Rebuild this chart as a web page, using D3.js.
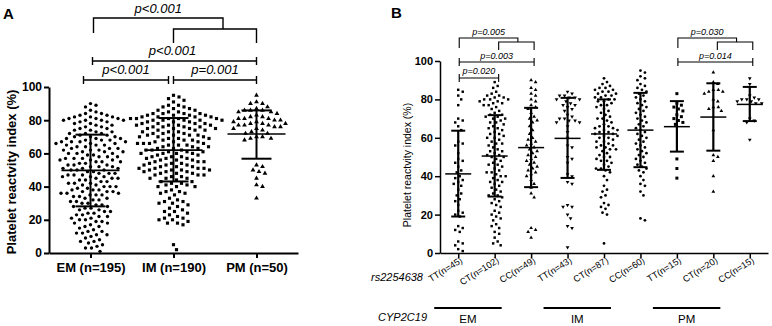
<!DOCTYPE html>
<html>
<head>
<meta charset="utf-8">
<script src="https://cdn.jsdelivr.net/npm/d3@7"></script>
<style>
body { margin: 0; background: #fff; }
svg { display: block; font-family: "Liberation Sans", Arial, sans-serif; }
</style>
</head>
<body>
<svg width="772" height="326"></svg>
<script>
// ---------- data: panel A ----------
var groupsA = ['EM (n=195)', 'IM (n=190)', 'PM (n=50)'];
var emValues = [90, 89, 88, 86, 85,
	84, 84, 83, 83, 82, 82, 82, 81, 81, 81, 80, 80, 80, 80,
	79, 79, 78, 78, 77, 77, 76, 76, 75, 75,
	74, 74, 73, 73, 72, 72, 72, 71, 71, 70, 70, 70,
	69, 69, 69, 68, 68, 68, 67, 67, 67, 67, 66, 66, 66, 65, 65, 65,
	64, 64, 63, 63, 63, 62, 62, 62, 61, 61, 61, 60, 60, 60,
	59, 59, 58, 58, 58, 57, 57, 57, 56, 56, 56, 55, 55, 55,
	54, 54, 53, 53, 53, 52, 52, 52, 51, 51, 51, 50, 50, 50,
	49, 49, 48, 48, 48, 47, 47, 47, 46, 46, 46, 45, 45, 45,
	44, 44, 43, 43, 42, 42, 42, 41, 41, 40, 40, 40,
	39, 39, 38, 38, 38, 37, 37, 37, 36, 36, 36, 35, 35, 35,
	34, 34, 33, 33, 32, 32, 31, 31, 30, 30,
	29, 29, 28, 28, 27, 27, 26, 26, 25, 25,
	24, 24, 23, 23, 22, 22, 21, 21, 20, 20,
	19, 19, 18, 18, 17, 16, 16, 15,
	14, 13, 13, 12, 12, 11, 11, 10,
	9, 8, 7, 7, 6, 5,
	4, 3, 3, 1];
var imValues = [95, 94, 93, 92, 91,
	89, 89, 88, 88, 87, 87, 86, 86, 85, 85,
	84, 84, 84, 84, 83, 83, 83, 83, 82, 82, 82, 82, 81, 81, 81, 81, 81, 80, 80, 80, 80, 80,
	79, 79, 79, 78, 78, 78, 78, 77, 77, 77, 77, 76, 76, 76, 76, 75, 75, 75, 75,
	74, 74, 74, 73, 73, 73, 72, 72, 72, 71, 71, 71, 71, 70, 70, 70,
	69, 69, 69, 68, 68, 68, 67, 67, 67, 66, 66, 66, 66, 65, 65, 65,
	64, 64, 64, 63, 63, 63, 62, 62, 62, 61, 61, 61, 60, 60, 60, 60,
	59, 59, 58, 58, 58, 57, 57, 57, 56, 56, 56, 55, 55, 55,
	54, 54, 54, 53, 53, 53, 52, 52, 52, 51, 51, 51, 51, 50, 50, 50, 50,
	49, 49, 49, 48, 48, 48, 47, 47, 47, 46, 46, 45, 45, 45,
	44, 43, 43, 42, 42, 41, 41, 40, 40, 40,
	38, 37, 37, 36, 36, 35,
	33, 32, 31, 31, 30, 30,
	29, 28, 27, 26, 25, 25,
	24, 23, 22, 21, 21, 20, 20,
	19, 18, 18, 17,
	5, 2];
var pmValues = [95, 91, 90, 90, 88, 87, 86, 86, 86, 85,
	85, 84, 83, 82, 82, 81, 81, 81, 80, 80,
	79, 79, 78, 78, 78, 77, 77, 77, 76, 76,
	75, 75, 74, 73, 72, 72, 70, 70, 69, 69, 68,
	53, 52, 50, 49, 48, 45, 41, 40, 33];
var meanA = [49.8, 62, 71.7];
var sdLowA = [28.1, 43.1, 56.8];
var sdHighA = [71.3, 81.3, 85.9];
var yTicks = [0, 20, 40, 60, 80, 100];
var pLabelsA = ['p<0.001', 'p<0.001', 'p<0.001', 'p=0.001'];

// ---------- data: panel B ----------
var genotypes = ['TT(n=45)', 'CT(n=102)', 'CC(n=49)', 'TT(n=43)', 'CT(n=87)', 'CC(n=60)', 'TT(n=15)', 'CT(n=20)', 'CC(n=15)'];
var phenotypes = ['EM', 'IM', 'PM'];
var emTT = [85, 84, 82, 80, 77, 70, 69, 68, 66, 64, 58, 57, 56, 52, 49, 48, 47, 45, 43, 42,
	40, 39, 38, 37, 36, 35, 33, 31, 30, 28, 27, 25, 22, 21, 20, 19, 14, 13, 12, 11, 6, 5, 4, 1, 2];
var emCT = [89, 87, 86, 84, 83, 82, 82, 81, 81, 80, 80, 80,
	79, 79, 78, 78, 77, 77, 76, 75, 74, 73, 72, 72, 71, 71, 70, 70,
	69, 68, 68, 67, 66, 65, 65, 64, 63, 62, 62, 61, 60, 60,
	59, 58, 57, 57, 56, 55, 54, 53, 53, 52, 51, 51, 50, 50,
	49, 48, 47, 46, 46, 45, 44, 43, 42, 42, 41, 40, 40,
	39, 38, 37, 37, 36, 35, 34, 33, 32, 31, 30, 30,
	29, 28, 27, 26, 25, 24, 22, 21, 20,
	19, 18, 17, 15, 14, 13, 11, 10, 8, 6, 5, 4];
var emCC = [90, 89, 86, 85, 83, 82, 80, 79, 77, 76, 75, 73, 71, 70, 69, 68, 66, 64, 62, 60,
	59, 58, 57, 56, 55, 54, 53, 52, 51, 50, 49, 48, 47, 46, 45, 44, 43, 42, 41, 40,
	38, 36, 34, 31, 29, 13, 12, 11, 8];
var imTT = [84, 83, 82, 82, 81, 81, 80, 80, 79, 78, 77, 77, 76, 75, 74, 72, 71, 70, 70, 69,
	69, 68, 68, 66, 63, 56, 55, 50, 49, 47, 41, 40, 37, 36, 25, 24, 24, 20, 18, 14, 13, 3, 60];
var imCT = [91, 89, 88, 87, 86, 86, 85, 85, 84, 84, 83, 83, 82, 82, 81, 81, 80, 80, 79, 79,
	78, 77, 77, 76, 75, 74, 73, 72, 71, 70, 70, 69, 68, 67, 66, 66, 65, 65, 64, 64,
	63, 63, 62, 62, 61, 61, 60, 60, 59, 58, 58, 57, 56, 56, 55, 55, 54, 54, 53, 52,
	51, 50, 50, 49, 48, 48, 47, 46, 45, 44, 44, 43, 42, 35, 33, 32, 30, 29, 26, 25,
	24, 23, 21, 20, 5, 40, 38];
var imCC = [95, 94, 92, 91, 90, 88, 87, 86, 85, 84, 83, 82, 81, 80, 79, 78, 77, 76, 75, 74,
	73, 72, 71, 70, 69, 68, 67, 66, 65, 64, 63, 62, 61, 60, 59, 58, 57, 56, 55, 54,
	53, 52, 51, 50, 49, 48, 47, 46, 44, 43, 42, 40, 38, 36, 35, 32, 30, 18, 17, 45];
var pmTT = [83, 78, 77, 76, 75, 74, 72, 71, 70, 69, 68, 67, 49, 44, 39];
var pmCT = [94, 89, 88, 85, 85, 84, 84, 83, 80, 79, 76, 76, 75, 74, 64, 51, 50, 48, 40, 32];
var pmCC = [91, 88, 82, 81, 80, 80, 80, 79, 79, 78, 78, 70, 69, 68, 59];
var meanB = [41.2, 50.5, 54.9, 59.7, 62, 64, 65.8, 70.8, 77.4];
var sdLowB = [19, 29.4, 34.3, 39.1, 43.3, 44.7, 52.8, 53.3, 68.7];
var sdHighB = [63.7, 71.8, 75.6, 80.8, 80, 83.4, 79.1, 88.4, 86.5];
var pLabelsB = ['p=0.005', 'p=0.003', 'p=0.020', 'p=0.030', 'p=0.014'];

var svg = d3.select('svg');

// simple beeswarm: each point slides sideways until it no longer touches the others
function swarm(values, y, d) {
	var placed = [];
	values.map(function(v) { return { v: v, y: y(v) }; })
		.sort(function(a, b) { return a.y - b.y; })
		.forEach(function(p) {
			for (var k = 0; k < 400; k++) {
				var off = (k % 2 ? 1 : -1) * Math.ceil(k / 2) * 0.5;
				var ok = placed.every(function(q) {
					return (q.x - off) * (q.x - off) + (q.y - p.y) * (q.y - p.y) >= d * d;
				});
				if (ok) { p.x = off; break; }
			}
			placed.push(p);
		});
	return placed;
}

function styleAxis(g, w, fs, bold) {
	g.selectAll('path, line').attr('stroke', '#000').attr('stroke-width', w);
	g.selectAll('text').attr('fill', '#000').attr('font-size', fs)
		.attr('font-weight', bold ? 'bold' : 'normal')
		.attr('font-family', '"Liberation Sans", Arial, sans-serif');
}

// ================= panel A =================
var xA = d3.scalePoint().domain(groupsA).range([49, 298]).padding(0.5);
var yA = d3.scaleLinear().domain([0, 100]).range([253, 87]);

svg.append('text').attr('x', 3).attr('y', 19).attr('font-size', 15)
	.attr('font-weight', 'bold').text('A');

var axA = svg.append('g').attr('transform', 'translate(49,0)')
	.call(d3.axisLeft(yA).tickValues(yTicks).tickSize(5).tickSizeOuter(0).tickPadding(2));
styleAxis(axA, 2, 12, true);
var axAx = svg.append('g').attr('transform', 'translate(0,253)')
	.call(d3.axisBottom(xA).tickSize(5).tickSizeOuter(0).tickPadding(5));
styleAxis(axAx, 2, 13, true);

svg.append('text')
	.attr('transform', 'translate(16,172) rotate(-90)')
	.attr('text-anchor', 'middle').attr('font-size', 13).attr('font-weight', 'bold')
	.text('Platelet reactvity index (%)');

var seriesA = [emValues, imValues, pmValues];
var symA = [d3.symbolCircle, d3.symbolSquare, d3.symbolTriangle];
var sizeA = [9, 10, 10];
seriesA.forEach(function(vals, i) {
	var cx = xA(groupsA[i]);
	svg.append('g').selectAll('path')
		.data(swarm(vals, yA, i == 2 ? 6 : 5.6))
		.enter().append('path')
		.attr('transform', function(d) { return 'translate(' + (cx + d.x) + ',' + d.y + ')'; })
		.attr('d', d3.symbol().type(symA[i]).size(sizeA[i]))
		.attr('fill', '#000');
});

// mean and SD bars
groupsA.forEach(function(g, i) {
	var cx = xA(g), bar = svg.append('g').attr('stroke', '#000');
	bar.append('line').attr('x1', cx).attr('x2', cx)
		.attr('y1', yA(sdLowA[i])).attr('y2', yA(sdHighA[i])).attr('stroke-width', 2);
	bar.append('line').attr('x1', cx - 29).attr('x2', cx + 29)
		.attr('y1', yA(meanA[i])).attr('y2', yA(meanA[i])).attr('stroke-width', 1.6);
	[sdLowA[i], sdHighA[i]].forEach(function(v) {
		bar.append('line').attr('x1', cx - 15).attr('x2', cx + 15)
			.attr('y1', yA(v)).attr('y2', yA(v)).attr('stroke-width', 2);
	});
});

// significance brackets A
var br = svg.append('g').attr('fill', 'none').attr('stroke', '#000').attr('stroke-width', 1.4);
var aEM = xA(groupsA[0]), aIM = xA(groupsA[1]), aPM = xA(groupsA[2]);
var subMid = (aIM + aPM) / 2 + 8;
br.append('path').attr('d', 'M' + (aEM + 3) + ',33V18H' + subMid + 'V29');
br.append('path').attr('d', 'M' + aIM + ',43V29H' + aPM + 'V43');
br.append('path').attr('d', 'M' + (aEM + 2) + ',61H' + aPM + 'M' + (aEM + 2) + ',57V65M' + aPM + ',57V65');
br.append('path').attr('d', 'M' + (aEM - 7) + ',80H' + (aIM - 5) + 'M' + (aEM - 7) + ',76V84M' + (aIM - 5) + ',76V84');
br.append('path').attr('d', 'M' + aIM + ',80H' + aPM + 'M' + aIM + ',76V84M' + aPM + ',76V84');

var ptA = [[(aEM + 3 + subMid) / 2, 13], [(aEM + 2 + aPM) / 2 - 2, 55], [(aEM + aIM - 12) / 2, 74], [(aIM + aPM) / 2, 74]];
svg.append('g').selectAll('text').data(ptA).enter().append('text')
	.attr('x', function(d) { return d[0]; }).attr('y', function(d) { return d[1]; })
	.attr('text-anchor', 'middle').attr('font-size', 13).attr('font-style', 'italic')
	.text(function(d, i) { return pLabelsA[i]; });

// ================= panel B =================
var xB = d3.scalePoint().domain(genotypes.map(function(d, i) { return i; })).range([440, 768]).padding(0.5);
var yB = d3.scaleLinear().domain([0, 100]).range([253, 61]);

svg.append('text').attr('x', 391).attr('y', 18).attr('font-size', 15)
	.attr('font-weight', 'bold').text('B');

var axB = svg.append('g').attr('transform', 'translate(440,0)')
	.call(d3.axisLeft(yB).tickValues(yTicks).tickSize(5).tickSizeOuter(0).tickPadding(2));
styleAxis(axB, 1.5, 11, true);
var axBx = svg.append('g').attr('transform', 'translate(0,253)')
	.call(d3.axisBottom(xB).tickSize(5).tickSizeOuter(0).tickFormat(''));
styleAxis(axBx, 1.5, 10, false);

svg.append('g').selectAll('text').data(genotypes).enter().append('text')
	.attr('transform', function(d, i) { return 'translate(' + (xB(i) + 5) + ',262) rotate(-32)'; })
	.attr('text-anchor', 'end').attr('font-size', 9.2).text(function(d) { return d; });

svg.append('text')
	.attr('transform', 'translate(411,165) rotate(-90)')
	.attr('text-anchor', 'middle').attr('font-size', 10.5)
	.text('Platelet reactvity index (%)');

svg.append('text').attr('x', 423).attr('y', 281).attr('font-size', 11)
	.attr('text-anchor', 'end').attr('font-style', 'italic').text('rs2254638');
svg.append('text').attr('x', 427).attr('y', 321).attr('font-size', 11)
	.attr('text-anchor', 'end').attr('font-style', 'italic').text('CYP2C19');

phenotypes.forEach(function(p, i) {
	var x1 = xB(i * 3) - 24, x2 = xB(i * 3 + 1) + 7;
	svg.append('line').attr('x1', x1).attr('x2', x2).attr('y1', 308).attr('y2', 308)
		.attr('stroke', '#000').attr('stroke-width', 2);
	svg.append('text').attr('x', (x1 + x2) / 2).attr('y', 323).attr('text-anchor', 'middle')
		.attr('font-size', 11.5).text(p);
});

var seriesB = [emTT, emCT, emCC, imTT, imCT, imCC, pmTT, pmCT, pmCC];
var symB = [d3.symbolSquare, d3.symbolSquare, d3.symbolTriangle, d3.symbolTriangle, d3.symbolCircle,
	d3.symbolCircle, d3.symbolSquare, d3.symbolTriangle, d3.symbolTriangle];
var flipB = [false, false, false, true, false, false, false, false, true];
var sizeB = [6, 6, 6, 6, 6, 6, 9, 6, 6];
seriesB.forEach(function(vals, i) {
	var cx = xB(i);
	svg.append('g').selectAll('path')
		.data(swarm(vals, yB, 4.6))
		.enter().append('path')
		.attr('transform', function(d) {
			return 'translate(' + (cx + d.x) + ',' + d.y + ')' + (flipB[i] ? ' rotate(180)' : '');
		})
		.attr('d', d3.symbol().type(symB[i]).size(sizeB[i]))
		.attr('fill', '#000');
});

seriesB.forEach(function(vals, i) {
	var cx = xB(i), bar = svg.append('g').attr('stroke', '#000');
	bar.append('line').attr('x1', cx).attr('x2', cx)
		.attr('y1', yB(sdLowB[i])).attr('y2', yB(sdHighB[i])).attr('stroke-width', 2.2);
	bar.append('line').attr('x1', cx - 13).attr('x2', cx + 13)
		.attr('y1', yB(meanB[i])).attr('y2', yB(meanB[i])).attr('stroke-width', 1.5);
	[sdLowB[i], sdHighB[i]].forEach(function(v) {
		bar.append('line').attr('x1', cx - 7).attr('x2', cx + 7)
			.attr('y1', yB(v)).attr('y2', yB(v)).attr('stroke-width', 2);
	});
});

// significance brackets B
var brB = svg.append('g').attr('fill', 'none').attr('stroke', '#000').attr('stroke-width', 1.1);
var ptB = [];
[0, 6].forEach(function(s, j) {
	var a = xB(s) + 1, b = xB(s + 1) + 4, c = xB(s + 2) + 3, m = (b + c) / 2 + 1.5;
	brB.append('path').attr('d', 'M' + a + ',48V38H' + m + 'V42');
	brB.append('path').attr('d', 'M' + b + ',50V42H' + c + 'V50');
	brB.append('path').attr('d', 'M' + a + ',62H' + c + 'M' + a + ',58V66M' + c + ',58V66');
	ptB.push([(a + m) / 2, 35], [(a + c) / 2, 59]);
	if (j == 0) {
		brB.append('path').attr('d', 'M' + a + ',78H' + b + 'M' + a + ',74V82M' + b + ',74V82');
		ptB.push([(a + b) / 2, 74]);
	}
});
svg.append('g').selectAll('text').data(ptB).enter().append('text')
	.attr('x', function(d) { return d[0]; }).attr('y', function(d) { return d[1]; })
	.attr('text-anchor', 'middle').attr('font-size', 9).attr('font-style', 'italic')
	.text(function(d, i) { return pLabelsB[i]; });
</script>
</body>
</html>
